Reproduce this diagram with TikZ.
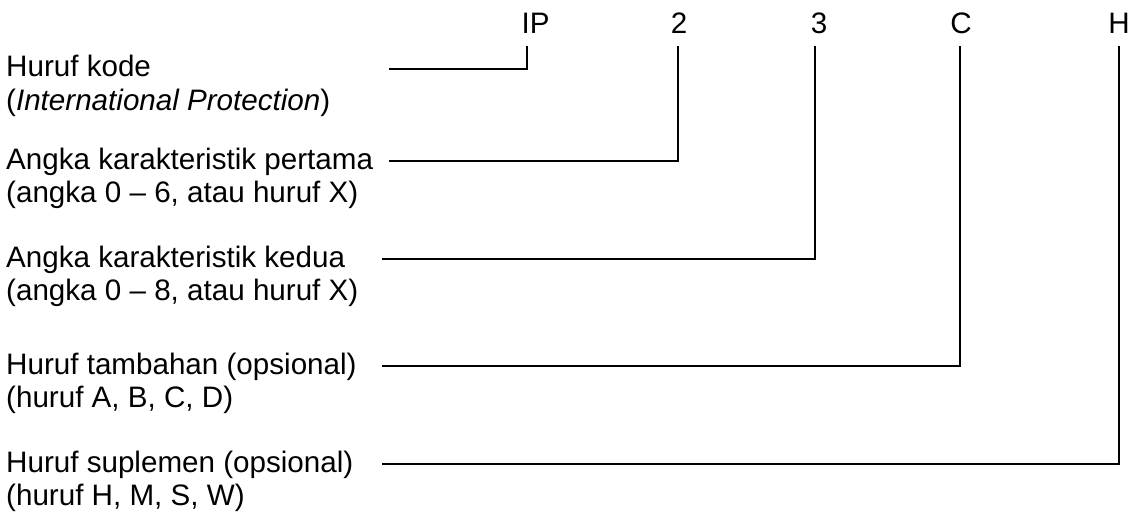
\documentclass[tikz,border=0pt]{standalone}
\usepackage{fontspec}
\setmainfont{Liberation Sans}
\begin{document}
\begin{tikzpicture}[x=1pt,y=-1pt]
\tikzset{
  lbl/.style={font=\fontsize{29.6}{33}\selectfont, inner sep=0pt, anchor=base west},
  code/.style={font=\fontsize{29.6}{33}\selectfont, inner sep=0pt, anchor=base},
  conn/.style={line width=1.7pt, line join=miter}
}
\useasboundingbox (0,0) rectangle (1137,511);
% code letters
\node[code] (ip) at (535.5,34) {IP};
\node[code] (c2) at (679,34) {2};
\node[code] (c3) at (819,34) {3};
\node[code] (cC) at (961,34) {C};
\node[code] (cH) at (1119,34) {H};
% left labels
\node[lbl] (l1a) at (6,77) {Huruf kode};
\node[lbl] (l1b) at (6,110) {(\textit{International Protection})};
\node[lbl] (l2a) at (6,169) {Angka karakteristik pertama};
\node[lbl] (l2b) at (6,202) {(angka 0 – 6, atau huruf X)};
\node[lbl] (l3a) at (6,267) {Angka karakteristik kedua};
\node[lbl] (l3b) at (6,300) {(angka 0 – 8, atau huruf X)};
\node[lbl] (l4a) at (6,374) {Huruf tambahan (opsional)};
\node[lbl] (l4b) at (6,407) {(huruf A, B, C, D)};
\node[lbl] (l5a) at (6,472) {Huruf suplemen (opsional)};
\node[lbl] (l5b) at (6,505) {(huruf H, M, S, W)};
% connector ends
\coordinate (s1) at (389,69);
\coordinate (s2) at (389,161);
\coordinate (s3) at (382,259);
\coordinate (s4) at (382,366);
\coordinate (s5) at (382,464);
\coordinate (t1) at (527,46);
\coordinate (t2) at (678,46);
\coordinate (t3) at (815,46);
\coordinate (t4) at (960,46);
\coordinate (t5) at (1119,46);
% connectors
\draw[conn] (s1) -| (t1);
\draw[conn] (s2) -| (t2);
\draw[conn] (s3) -| (t3);
\draw[conn] (s4) -| (t4);
\draw[conn] (s5) -| (t5);
\end{tikzpicture}
\end{document}
